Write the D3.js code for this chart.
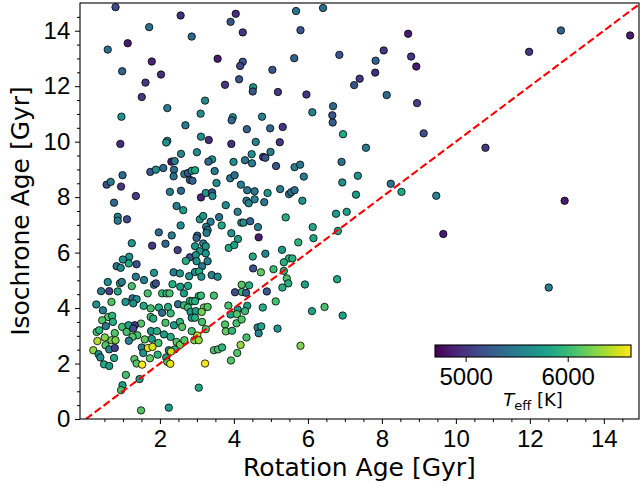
<!DOCTYPE html>
<html>
<head>
<meta charset="utf-8">
<script src="https://cdn.jsdelivr.net/npm/d3@7"></script>
<style>
  body { margin: 0; background: #fff; }
  svg { display: block; font-family: "DejaVu Sans", sans-serif; }
</style>
</head>
<body>
<div id="chart"></div>
<script>
// data: rotation age, isochrone age (Gyr), Teff (K)
var rotAge = [0.80,2.56,1.71,2.86,1.13,0.59,3.56,1.78,0.98,2.03,1.61,1.51,3.22,2.20,0.96,3.10,2.69,0.93,3.11,3.32,2.20,2.17,2.57,3.00,3.41,
  4.05,3.91,5.68,6.41,4.24,5.80,8.71,4.24,4.17,5.63,6.85,8.05,8.79,8.93,7.83,5.04,7.82,7.40,7.25,4.14,3.76,4.52,4.51,5.19,5.96,8.13,8.95,6.12,6.68,6.66,6.67,3.97,3.94,4.76,4.35,4.98,5.32,6.95,3.93,4.59,5.24,7.57,4.48,4.99,4.79,4.85,
  9.13,10.80,11.98,12.84,14.71,8.53,9.47,12.94,9.66,12.51,
  3.99,4.30,4.49,5.14,5.64,5.79,5.89,6.91,7.35,6.93,7.30,8.24,3.90,4.02,4.19,4.36,4.56,4.91,5.25,5.49,5.55,5.64,4.34,4.40,4.56,4.82,5.85,3.78,4.10,4.20,4.26,4.44,4.65,5.40,6.76,7.05,6.81,6.13,6.15,5.74,3.93,4.11,4.67,3.86,4.01,5.30,4.85,4.51,5.49,5.58,5.35,4.52,4.73,5.07,5.35,5.43,5.47,5.92,6.79,4.21,4.41,5.31,
  4.03,4.22,4.33,4.89,3.85,4.10,3.91,4.08,4.36,4.30,4.78,5.13,3.76,4.07,4.21,3.78,3.95,4.64,4.74,4.67,5.18,6.11,6.45,6.94,4.18,4.34,4.09,3.92,5.80,3.46,3.57,3.68,
  2.31,2.40,3.31,1.74,1.89,2.09,2.38,2.37,2.66,2.76,2.86,2.95,2.81,2.88,3.48,0.99,0.56,0.67,0.95,1.35,0.76,2.27,2.57,3.11,3.24,3.41,3.42,3.53,2.45,2.63,0.86,0.86,1.11,3.08,3.17,3.37,3.60,2.56,3.25,3.29,3.26,1.97,2.32,3.01,2.99,3.67,1.24,1.79,2.15,2.48,2.95,3.08,3.17,3.24,3.24,
  1.17,1.00,0.83,0.94,1.16,1.37,2.81,2.97,2.70,2.99,3.14,3.29,1.35,1.57,1.84,2.37,2.54,2.79,2.95,3.06,3.12,3.40,3.56,0.59,0.92,0.97,0.41,0.63,0.86,1.24,1.84,1.89,2.34,2.55,2.76,1.67,2.06,2.18,2.26,2.65,3.05,3.11,3.46,
  0.28,0.46,0.69,1.07,1.26,1.37,1.28,1.56,1.75,1.97,2.06,2.22,2.29,2.49,2.65,2.81,2.88,2.95,2.76,2.83,2.97,3.19,3.29,3.13,1.75,1.82,1.49,2.15,2.38,2.54,2.60,2.86,2.95,3.14,3.24,
  0.60,0.71,0.44,0.73,0.54,0.29,0.36,0.98,1.15,1.32,1.10,1.28,1.39,1.26,1.16,1.76,1.92,1.78,1.96,1.59,2.11,2.29,2.45,2.54,2.66,2.86,3.01,2.93,3.05,0.78,0.69,0.80,0.51,0.31,0.53,0.63,0.78,0.20,0.34,0.39,0.76,0.49,0.63,
  1.51,1.55,1.68,1.80,1.94,1.73,1.31,1.37,1.52,2.17,2.20,2.28,2.24,2.40,2.30,3.22,1.08,0.99,0.95,1.45,3.05,1.49,2.24];

var isoAge = [14.85,14.55,14.13,13.79,13.55,13.32,12.99,12.89,12.54,12.42,12.13,11.61,11.48,11.21,10.90,11.01,10.59,9.92,10.18,10.06,10.03,9.97,9.56,9.62,9.36,
  14.61,14.32,14.71,14.82,13.94,14.02,13.89,12.88,12.73,13.01,13.13,13.29,13.07,12.71,12.92,12.59,12.49,12.27,12.04,12.25,12.05,11.96,11.81,11.79,11.70,11.68,11.39,11.06,11.28,10.95,10.69,10.88,10.77,10.90,10.45,10.48,10.53,10.27,9.92,9.99,9.98,9.78,9.55,9.63,9.45,9.42,
  10.30,9.78,13.24,14.01,13.83,8.19,8.05,7.87,6.67,4.74,
  9.27,9.33,9.22,9.12,9.08,9.17,8.74,9.27,8.77,8.53,8.09,8.48,8.68,8.79,8.45,8.25,8.21,8.15,8.29,8.11,8.18,8.25,7.87,7.78,7.92,7.82,7.87,7.71,7.47,7.08,7.08,7.13,6.92,7.27,7.40,7.47,6.78,6.92,6.52,6.37,6.70,6.49,6.55,6.17,6.27,6.10,5.96,5.86,5.79,5.79,5.65,5.43,5.29,5.40,5.34,5.07,4.89,4.85,5.04,4.84,4.82,4.74,
  4.57,4.58,4.55,4.60,4.09,3.95,3.77,3.78,4.08,3.89,4.02,4.24,3.41,3.45,3.59,3.16,3.18,3.30,3.34,3.09,3.26,3.89,4.04,3.73,2.67,2.94,2.38,2.11,2.64,2.48,2.51,2.58,
  9.28,9.30,9.28,8.91,8.99,9.05,8.99,8.75,8.83,8.87,8.95,8.97,8.62,8.59,8.94,8.79,8.45,8.55,8.38,8.04,7.80,8.19,8.23,7.99,8.15,8.17,8.04,8.51,7.68,7.53,7.29,7.15,7.20,7.20,7.32,7.11,7.28,6.98,6.93,6.81,6.71,6.73,6.62,6.61,6.53,6.98,6.34,6.25,6.32,6.09,6.23,6.05,6.33,6.23,5.97,
  5.85,5.75,5.51,5.45,5.61,5.58,5.83,5.91,5.70,5.69,5.51,5.69,5.13,5.01,5.27,5.29,5.25,5.15,5.30,5.32,5.13,5.19,5.13,4.94,4.89,4.94,4.61,4.61,4.60,4.79,4.84,4.89,4.86,4.77,4.80,4.53,4.53,4.53,4.53,4.53,4.43,4.45,4.45,
  4.13,3.92,4.22,4.22,4.35,4.32,4.17,4.08,3.99,4.02,3.83,4.04,3.81,4.14,4.10,4.26,4.25,4.25,4.02,3.86,3.89,4.02,4.04,3.86,3.68,3.62,3.44,3.47,3.38,3.50,3.32,3.65,3.65,3.50,3.24,
  3.68,3.72,3.56,3.50,3.35,3.14,3.20,3.32,3.38,3.38,3.14,3.26,3.02,2.96,2.82,3.17,3.17,2.89,2.74,2.87,3.05,2.96,2.78,2.67,2.84,3.17,3.01,2.84,2.84,3.10,2.84,2.84,2.94,2.81,2.66,2.51,2.56,2.48,2.34,2.22,2.20,1.97,1.91,
  2.58,2.38,2.56,2.60,2.32,2.19,2.16,2.00,1.96,2.22,2.06,1.99,2.48,2.51,2.43,2.00,1.59,1.22,1.04,1.44,1.13,0.31,0.41];

var teff = [5150,4950,5400,5350,4850,5400,4850,4900,5300,4950,5000,5000,5600,5500,5700,5650,5500,4950,5650,4950,5700,5650,5550,5650,5650,
  4950,5200,5450,5400,5000,5200,4850,5200,5100,5300,5200,5000,5000,4850,5300,5200,4950,5000,5200,5200,5000,5700,5200,5000,5000,5350,5050,5550,5350,5200,5250,5650,5350,5550,5300,5350,5000,5850,4950,5550,5000,5500,5650,5500,4950,5200,
  5150,5000,5000,5300,4850,5850,5550,4850,4850,5500,
  5650,5450,5500,5200,5500,5450,5500,5400,5700,5650,5750,5450,5450,5400,5550,5450,5450,5700,5500,5450,5450,5400,5500,5550,5550,5450,5700,5650,5550,5700,5650,5300,5500,5900,5750,5800,5850,5850,5850,5950,5700,5750,4850,5850,5800,5750,5550,5850,5950,5900,5900,5150,6150,6000,5900,6050,5900,5800,5850,6100,5900,5900,
  5150,6000,5300,5200,6050,5750,5800,6100,5800,6000,5900,6050,6100,6050,6100,6150,5950,5550,5850,5550,5700,5800,6050,5800,6300,6050,6100,6100,6250,6050,6050,5950,
  4850,5500,5350,5200,5650,5350,5350,5400,5450,5200,5650,5850,5200,5300,5500,5350,5150,5500,5000,5050,5350,5500,5350,4900,5700,5200,5650,5650,5500,5750,5550,5500,5150,5750,5700,5500,5400,5650,5500,5450,5500,5350,5500,5350,5300,5850,5700,5000,5350,5050,5700,5750,5500,5700,5700,
  5700,5650,5400,5600,5850,5150,5150,5650,5900,5700,5450,5500,5500,5550,5700,5500,5700,5700,5650,5850,5700,5550,5650,5650,5850,5500,5500,5050,5850,6050,5500,5150,5900,5750,5850,6050,6000,5950,6050,5750,5900,6000,6050,
  5650,5500,6100,5700,5450,5650,5650,5850,6050,5900,5350,5900,6000,5400,5950,5900,6000,5900,6000,5750,5750,6150,6100,6200,6050,5900,6100,6050,5750,5950,6100,5700,5900,6050,6100,
  6100,5950,6100,5900,5500,6050,5950,6050,5800,5000,6050,5150,6050,6100,5550,5700,5900,5750,6050,6150,5750,5900,6100,6200,6100,6050,6400,6250,6300,6100,6200,6250,6250,6400,6100,5550,5050,6300,5650,5650,5850,5850,5750,
  5500,5700,6550,6500,5950,6150,6100,6100,6600,5750,6050,6550,5550,5950,6450,6600,6050,5800,6050,5750,5850,6100,5750];

var xTicks = [2, 4, 6, 8, 10, 12, 14];
var yTicks = [0, 2, 4, 6, 8, 10, 12, 14];
var cbTicks = [5000, 6000];
var teffRange = [4700, 6620];

var width = 641, height = 487;
var margin = {top: 3, right: 2, bottom: 68, left: 80};
var plotW = width - margin.left - margin.right;
var plotH = height - margin.top - margin.bottom;

var x = d3.scaleLinear().domain([-0.16, 14.95]).range([0, plotW]);
var y = d3.scaleLinear().domain([0, 15]).range([plotH, 0]);
var color = d3.scaleSequential(d3.interpolateViridis).domain(teffRange);

var svg = d3.select("#chart").append("svg")
  .attr("width", width)
  .attr("height", height);

svg.append("defs").append("clipPath").attr("id", "plotclip")
  .append("rect").attr("width", plotW).attr("height", plotH);

var g = svg.append("g")
  .attr("transform", "translate(" + margin.left + "," + margin.top + ")");

// minor ticks every 0.5
var xMinor = d3.range(0.5, 15, 0.5).filter(function(d) { return d % 2 !== 0; });
var yMinor = d3.range(0.5, 15, 0.5).filter(function(d) { return d % 2 !== 0; });

g.append("g")
  .attr("transform", "translate(0," + plotH + ")")
  .call(d3.axisBottom(x).tickValues(xMinor).tickSize(3).tickFormat(""))
  .call(function(a) { a.select(".domain").remove(); });

g.append("g")
  .call(d3.axisLeft(y).tickValues(yMinor).tickSize(3).tickFormat(""))
  .call(function(a) { a.select(".domain").remove(); });

var xAxis = g.append("g")
  .attr("transform", "translate(0," + plotH + ")")
  .call(d3.axisBottom(x).tickValues(xTicks).tickSize(5).tickPadding(6));
xAxis.select(".domain").remove();
xAxis.selectAll("text").style("font-size", "24px").attr("fill", "#000");

var yAxis = g.append("g")
  .call(d3.axisLeft(y).tickValues(yTicks).tickSize(5).tickPadding(4.7));
yAxis.select(".domain").remove();
yAxis.selectAll("text").style("font-size", "24px").attr("fill", "#000");

// scatter points
g.append("g").attr("clip-path", "url(#plotclip)")
  .selectAll("circle")
  .data(d3.range(rotAge.length))
  .enter().append("circle")
  .attr("cx", function(i) { return x(rotAge[i]); })
  .attr("cy", function(i) { return y(isoAge[i]); })
  .attr("r", 3.7)
  .attr("fill", function(i) { return color(teff[i]); })
  .attr("stroke", "#000")
  .attr("stroke-width", 0.8);

// 1:1 line
g.append("line")
  .attr("clip-path", "url(#plotclip)")
  .attr("x1", x(0)).attr("y1", y(0))
  .attr("x2", x(16)).attr("y2", y(16))
  .attr("stroke", "red")
  .attr("stroke-width", 2.1)
  .attr("stroke-dasharray", "7.7,3.3");

// frame
g.append("rect")
  .attr("width", plotW).attr("height", plotH)
  .attr("fill", "none")
  .attr("stroke", "#000")
  .attr("stroke-width", 1.1);

// axis labels
svg.append("text")
  .attr("x", margin.left + plotW / 2)
  .attr("y", 476)
  .attr("text-anchor", "middle")
  .style("font-size", "25px")
  .text("Rotation Age [Gyr]");

svg.append("text")
  .attr("transform", "translate(29," + (margin.top + plotH / 2) + ") rotate(-90)")
  .attr("text-anchor", "middle")
  .style("font-size", "25px")
  .text("Isochrone Age [Gyr]");

// colorbar inset
var cbX = 435, cbY = 345, cbW = 196, cbH = 12;
var grad = svg.select("defs").append("linearGradient").attr("id", "viridis");
d3.range(0, 1.0001, 0.05).forEach(function(t) {
  grad.append("stop").attr("offset", t).attr("stop-color", d3.interpolateViridis(t));
});
var cb = svg.append("g").attr("transform", "translate(" + cbX + "," + cbY + ")");
cb.append("rect").attr("width", cbW).attr("height", cbH).attr("fill", "url(#viridis)");
var cbScale = d3.scaleLinear().domain(teffRange).range([0, cbW]);
var cbAxis = cb.append("g")
  .attr("transform", "translate(0," + cbH + ")")
  .call(d3.axisBottom(cbScale).tickValues(cbTicks).tickSize(5).tickPadding(6).tickFormat(d3.format("d")));
cbAxis.select(".domain").remove();
cbAxis.selectAll("text").style("font-size", "24px").attr("fill", "#000");
cb.append("rect").attr("width", cbW).attr("height", cbH)
  .attr("fill", "none").attr("stroke", "#000").attr("stroke-width", 1.1);

var cbLabel = cb.append("text")
  .attr("x", cbW / 2).attr("y", 61)
  .attr("text-anchor", "middle")
  .style("font-size", "18px");
cbLabel.append("tspan").style("font-style", "italic").text("T");
cbLabel.append("tspan").attr("dy", 4).style("font-size", "13px").text("eff");
cbLabel.append("tspan").attr("dy", -4).text(" [K]");
</script>
</body>
</html>
